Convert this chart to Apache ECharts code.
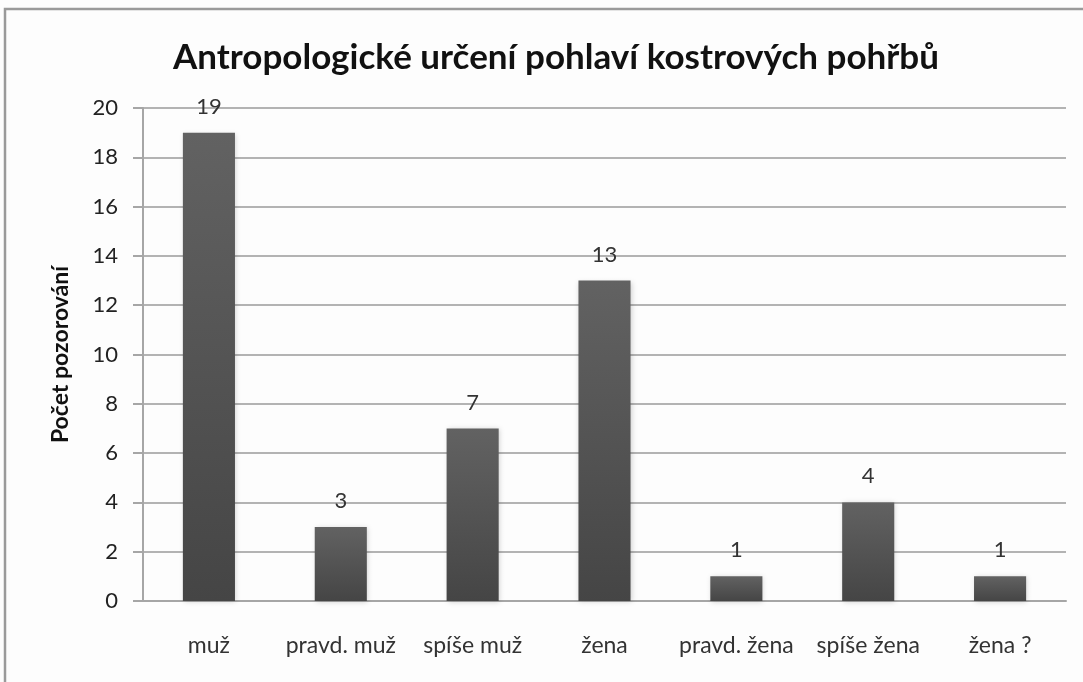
<!DOCTYPE html>
<html>
<head>
<meta charset="utf-8">
<script src="https://cdn.jsdelivr.net/npm/echarts@6/dist/echarts.min.js"></script>
<style>
  html, body { margin: 0; padding: 0; background: #fff; }
  #chart { width: 1083px; height: 682px; }
</style>
</head>
<body>
<div id="chart"></div>
<script>
// data
const categories = ['muž', 'pravd. muž', 'spíše muž', 'žena', 'pravd. žena', 'spíše žena', 'žena ?'];
const counts = [19, 3, 7, 13, 1, 4, 1];

const chart = echarts.init(document.getElementById('chart'));

const option = {
    backgroundColor: '#fdfdfd',
    textStyle: { fontFamily: 'Lato, "Open Sans", sans-serif' },
    title: {
        text: 'Antropologické určení pohlaví kostrových pohřbů',
        left: 168,
        top: 35,
        textStyle: { fontSize: 35, fontWeight: 'bold', color: '#111' }
    },
    graphic: [{
        type: 'rect',
        shape: { x: 5, y: 9, width: 1100, height: 700 },
        style: { fill: 'none', stroke: '#9a9a9a', lineWidth: 2.5 },
        silent: true
    }],
    grid: { left: 143, right: 17, top: 108, bottom: 81 },
    xAxis: {
        type: 'category',
        data: categories,
        axisLine: { lineStyle: { color: '#a6a6a6', width: 2 } },
        axisTick: { show: false },
        axisLabel: { color: '#333', fontSize: 23, margin: 33, interval: 0, hideOverlap: false }
    },
    yAxis: {
        type: 'value',
        min: 0,
        max: 20,
        interval: 2,
        name: 'Počet pozorování',
        nameLocation: 'middle',
        nameGap: 71,
        nameTextStyle: { fontSize: 23, fontWeight: 'bold', color: '#111' },
        axisLine: { show: true, lineStyle: { color: '#a6a6a6', width: 2 } },
        axisTick: { show: true, length: 10, lineStyle: { color: '#a6a6a6', width: 2 } },
        splitLine: { lineStyle: { color: '#b3b3b3', width: 2 } },
        axisLabel: { color: '#222', fontSize: 22, margin: 25 }
    },
    series: [{
        type: 'bar',
        data: counts,
        barWidth: '39.5%',
        itemStyle: {
            color: new echarts.graphic.LinearGradient(0, 0, 0, 1, [
                { offset: 0, color: '#626262' },
                { offset: 1, color: '#454545' }
            ]),
            shadowBlur: 5,
            shadowColor: 'rgba(0,0,0,0.18)',
            shadowOffsetX: 1,
            shadowOffsetY: 1
        },
        label: {
            show: true,
            position: 'top',
            distance: 15,
            fontSize: 22,
            color: '#333'
        }
    }]
};

chart.setOption(option);
</script>
</body>
</html>
